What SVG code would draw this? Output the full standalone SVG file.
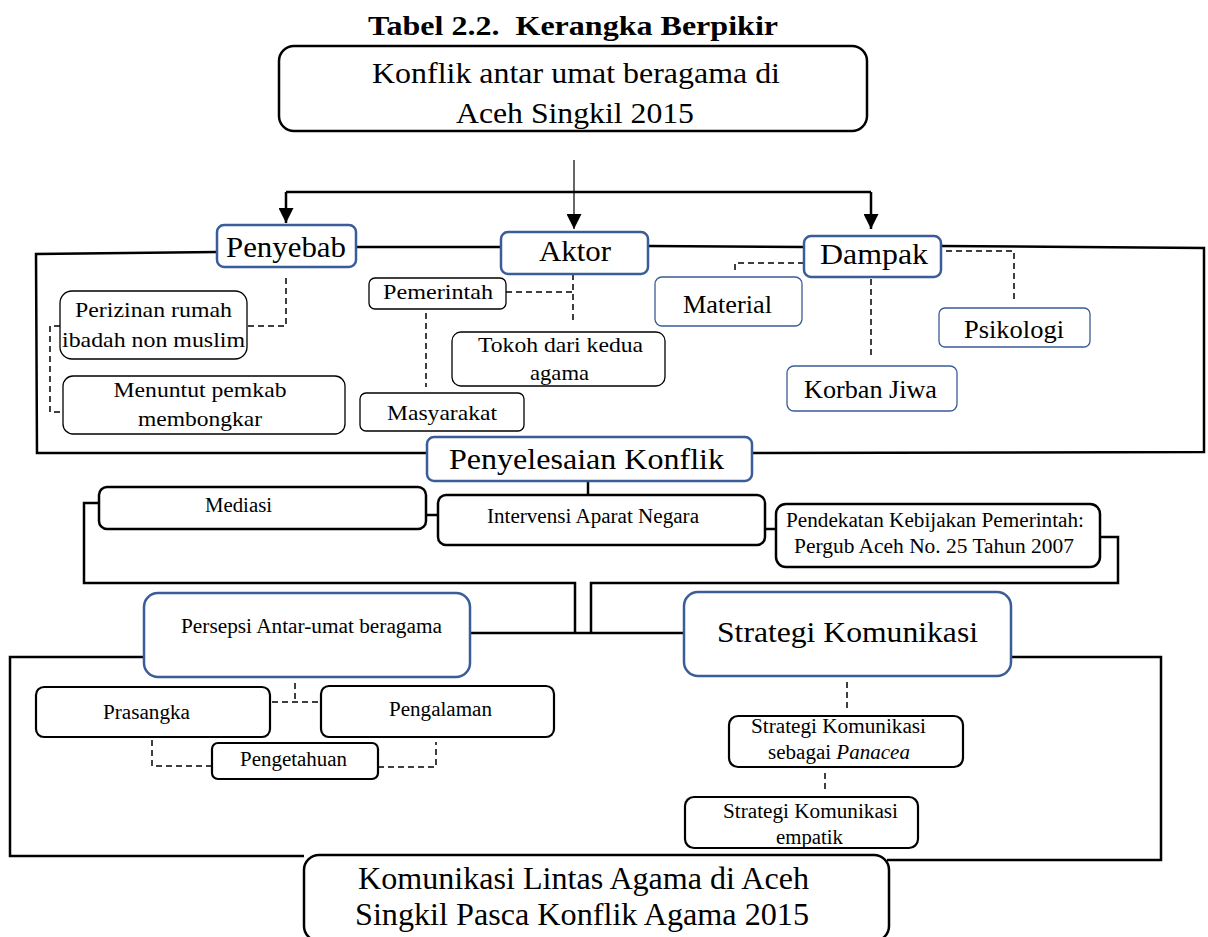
<svg xmlns="http://www.w3.org/2000/svg" width="1208" height="937" viewBox="0 0 1208 937">
<style>
text{font-family:"Liberation Serif","Times New Roman",serif;fill:#000;text-anchor:middle}
.bx{fill:#fff;stroke:#000;stroke-width:2.5}
.bb{fill:#fff;stroke:#3A5C99;stroke-width:2.5}
.bbt{fill:#fff;stroke:#3A5C99;stroke-width:1.3}
.bt{fill:#fff;stroke:#000;stroke-width:1.3}
.bm{fill:#fff;stroke:#000;stroke-width:2.2}
.solid{fill:none;stroke:#000;stroke-width:2.5}
.thin{fill:none;stroke:#000;stroke-width:1.2}
.dash{fill:none;stroke:#000;stroke-width:1.5;stroke-dasharray:6 4}
.f30{font-size:30px}
.f22{font-size:22px}
.f25{font-size:25px}
.f20{font-size:20px}
</style>
<defs>
<marker id="ah" markerUnits="userSpaceOnUse" markerWidth="15" markerHeight="15" refX="15" refY="7.5" orient="auto">
<path d="M0,0 L15,7.5 L0,15 z" fill="#000"/>
</marker>
</defs>

<text x="573" y="35" style="font-size:28px;font-weight:bold" textLength="410" lengthAdjust="spacingAndGlyphs">Tabel 2.2.&#160; Kerangka Berpikir</text>

<g id="connectors">
<path class="thin" d="M574 160 V229" marker-end="url(#ah)"/>
<path class="solid" d="M286 192 H871"/>
<path class="solid" d="M286 192 V223" marker-end="url(#ah)"/>
<path class="solid" d="M871 192 V229" marker-end="url(#ah)"/>
<path class="solid" d="M427 453 L37 453 L36 254 L217 252 M356 247 L501 247 M648 246 L804 247 M941 246 L1204 248 L1204 452 L752 453"/>
<path class="dash" d="M286 278 V326 H248"/>
<path class="dash" d="M60 326 H50 V412 H63"/>
<path class="dash" d="M573 274 V323"/>
<path class="dash" d="M506 292 H573"/>
<path class="dash" d="M426 313 V387"/>
<path class="dash" d="M804 263 H735 V271"/>
<path class="dash" d="M871 279 V357"/>
<path class="dash" d="M946 251 H1014 V300"/>
<path class="solid" d="M588 480 V495"/>
<path class="solid" d="M426 515 H438"/>
<path class="solid" d="M765 529 H776"/>
<path class="solid" d="M99 503 H84 V583 H575 V633"/>
<path class="solid" d="M1100 537 H1118 V583 H591 V633"/>
<path class="solid" d="M470 633 H684"/>
<path class="solid" d="M144 657 H10 V856 H304"/>
<path class="solid" d="M1011 657 H1161 V860 H887"/>
<path class="dash" d="M295 683 V702"/>
<path class="dash" d="M272 702 H321"/>
<path class="dash" d="M152 740 V766 H212"/>
<path class="dash" d="M378 767 H436 V742"/>
<path class="dash" d="M847 682 V711"/>
<path class="dash" d="M825 773 V793"/>
</g>

<g id="konflik">
<rect class="bx" x="279" y="46" width="588" height="85" rx="15"/>
<text class="f30" x="576" y="83" textLength="408" lengthAdjust="spacingAndGlyphs">Konflik antar umat beragama di</text>
<text class="f30" x="575" y="123" textLength="238" lengthAdjust="spacingAndGlyphs">Aceh Singkil 2015</text>
</g>

<g id="penyebab">
<rect class="bb" x="217" y="225" width="139" height="42" rx="7"/>
<text class="f30" x="286" y="257" textLength="120" lengthAdjust="spacingAndGlyphs">Penyebab</text>
</g>
<g id="aktor">
<rect class="bb" x="501" y="232" width="147" height="42" rx="7"/>
<text class="f30" x="575" y="261" textLength="72" lengthAdjust="spacingAndGlyphs">Aktor</text>
</g>
<g id="dampak">
<rect class="bb" x="804" y="236" width="137" height="41" rx="7"/>
<text class="f30" x="874" y="264" textLength="108" lengthAdjust="spacingAndGlyphs">Dampak</text>
</g>

<g id="perizinan">
<rect class="bt" x="60" y="291" width="187" height="68" rx="12"/>
<text class="f22" x="153.5" y="317" textLength="157" lengthAdjust="spacingAndGlyphs">Perizinan rumah</text>
<text class="f22" x="153.5" y="347" textLength="183" lengthAdjust="spacingAndGlyphs">ibadah non muslim</text>
</g>
<g id="menuntut">
<rect class="bt" x="63" y="376" width="282" height="58" rx="10"/>
<text class="f22" x="200" y="397" textLength="173" lengthAdjust="spacingAndGlyphs">Menuntut pemkab</text>
<text class="f22" x="200" y="426" textLength="124" lengthAdjust="spacingAndGlyphs">membongkar</text>
</g>
<g id="pemerintah">
<rect class="bt" x="369" y="278" width="137" height="31" rx="6"/>
<text class="f22" x="438" y="299" textLength="110" lengthAdjust="spacingAndGlyphs">Pemerintah</text>
</g>
<g id="tokoh">
<rect class="bt" x="452" y="332" width="213" height="54" rx="9"/>
<text class="f22" x="560.5" y="352" textLength="165" lengthAdjust="spacingAndGlyphs">Tokoh dari kedua</text>
<text class="f22" x="559.5" y="380" textLength="59" lengthAdjust="spacingAndGlyphs">agama</text>
</g>
<g id="masyarakat">
<rect class="bt" x="360" y="393" width="164" height="38" rx="6"/>
<text class="f22" x="442" y="420" textLength="110" lengthAdjust="spacingAndGlyphs">Masyarakat</text>
</g>
<g id="material">
<rect class="bbt" x="655" y="277" width="147" height="49" rx="7"/>
<text class="f25" x="727.5" y="313" textLength="89" lengthAdjust="spacingAndGlyphs">Material</text>
</g>
<g id="korban">
<rect class="bbt" x="787" y="366" width="170" height="45" rx="7"/>
<text class="f25" x="870.5" y="398" textLength="133" lengthAdjust="spacingAndGlyphs">Korban Jiwa</text>
</g>
<g id="psikologi">
<rect class="bbt" x="939" y="308" width="151" height="39" rx="6"/>
<text class="f25" x="1014" y="338" textLength="100" lengthAdjust="spacingAndGlyphs">Psikologi</text>
</g>

<g id="penyelesaian">
<rect class="bb" x="427" y="437" width="325" height="44" rx="7"/>
<text class="f30" x="586.5" y="469" textLength="275" lengthAdjust="spacingAndGlyphs">Penyelesaian Konflik</text>
</g>
<g id="mediasi">
<rect class="bx" x="99" y="487" width="327" height="42" rx="8"/>
<text class="f20" x="238.5" y="512" textLength="67" lengthAdjust="spacingAndGlyphs">Mediasi</text>
</g>
<g id="intervensi">
<rect class="bx" x="438" y="495" width="327" height="50" rx="8"/>
<text class="f20" x="593" y="523" textLength="212" lengthAdjust="spacingAndGlyphs">Intervensi Aparat Negara</text>
</g>
<g id="pendekatan">
<rect class="bx" x="776" y="504" width="324" height="63" rx="10"/>
<text class="f20" x="935" y="527" textLength="298" lengthAdjust="spacingAndGlyphs">Pendekatan Kebijakan Pemerintah:</text>
<text class="f20" x="934" y="553" textLength="280" lengthAdjust="spacingAndGlyphs">Pergub Aceh No. 25 Tahun 2007</text>
</g>

<g id="persepsi">
<rect class="bb" x="144" y="593" width="326" height="84" rx="14"/>
<text class="f20" x="311.5" y="633" textLength="261" lengthAdjust="spacingAndGlyphs">Persepsi Antar-umat beragama</text>
</g>
<g id="strategi">
<rect class="bb" x="684" y="592" width="327" height="84" rx="14"/>
<text class="f30" x="847.5" y="642" textLength="261" lengthAdjust="spacingAndGlyphs">Strategi Komunikasi</text>
</g>
<g id="prasangka">
<rect class="bm" x="36" y="687" width="234" height="50" rx="8"/>
<text class="f20" x="146.5" y="719" textLength="87" lengthAdjust="spacingAndGlyphs">Prasangka</text>
</g>
<g id="pengalaman">
<rect class="bm" x="321" y="686" width="233" height="51" rx="8"/>
<text class="f20" x="440.5" y="716" textLength="103" lengthAdjust="spacingAndGlyphs">Pengalaman</text>
</g>
<g id="pengetahuan">
<rect class="bm" x="212" y="743" width="166" height="36" rx="6"/>
<text class="f20" x="293.5" y="766" textLength="107" lengthAdjust="spacingAndGlyphs">Pengetahuan</text>
</g>
<g id="panacea">
<rect class="bm" x="729" y="716" width="234" height="51" rx="9"/>
<text class="f20" x="838.5" y="733" textLength="175" lengthAdjust="spacingAndGlyphs">Strategi Komunikasi</text>
<text class="f20" x="839" y="759" textLength="142" lengthAdjust="spacingAndGlyphs">sebagai <tspan font-style="italic">Panacea</tspan></text>
</g>
<g id="empatik">
<rect class="bm" x="685" y="797" width="233" height="51" rx="9"/>
<text class="f20" x="810.5" y="818" textLength="175" lengthAdjust="spacingAndGlyphs">Strategi Komunikasi</text>
<text class="f20" x="809.5" y="844" textLength="67" lengthAdjust="spacingAndGlyphs">empatik</text>
</g>

<g id="komunikasi-lintas">
<rect class="bx" x="304" y="855" width="585" height="86" rx="15"/>
<text style="font-size:32px" x="583.5" y="889" textLength="451" lengthAdjust="spacingAndGlyphs">Komunikasi Lintas Agama di Aceh</text>
<text style="font-size:32px" x="582" y="925" textLength="454" lengthAdjust="spacingAndGlyphs">Singkil Pasca Konflik Agama 2015</text>
</g>
</svg>
